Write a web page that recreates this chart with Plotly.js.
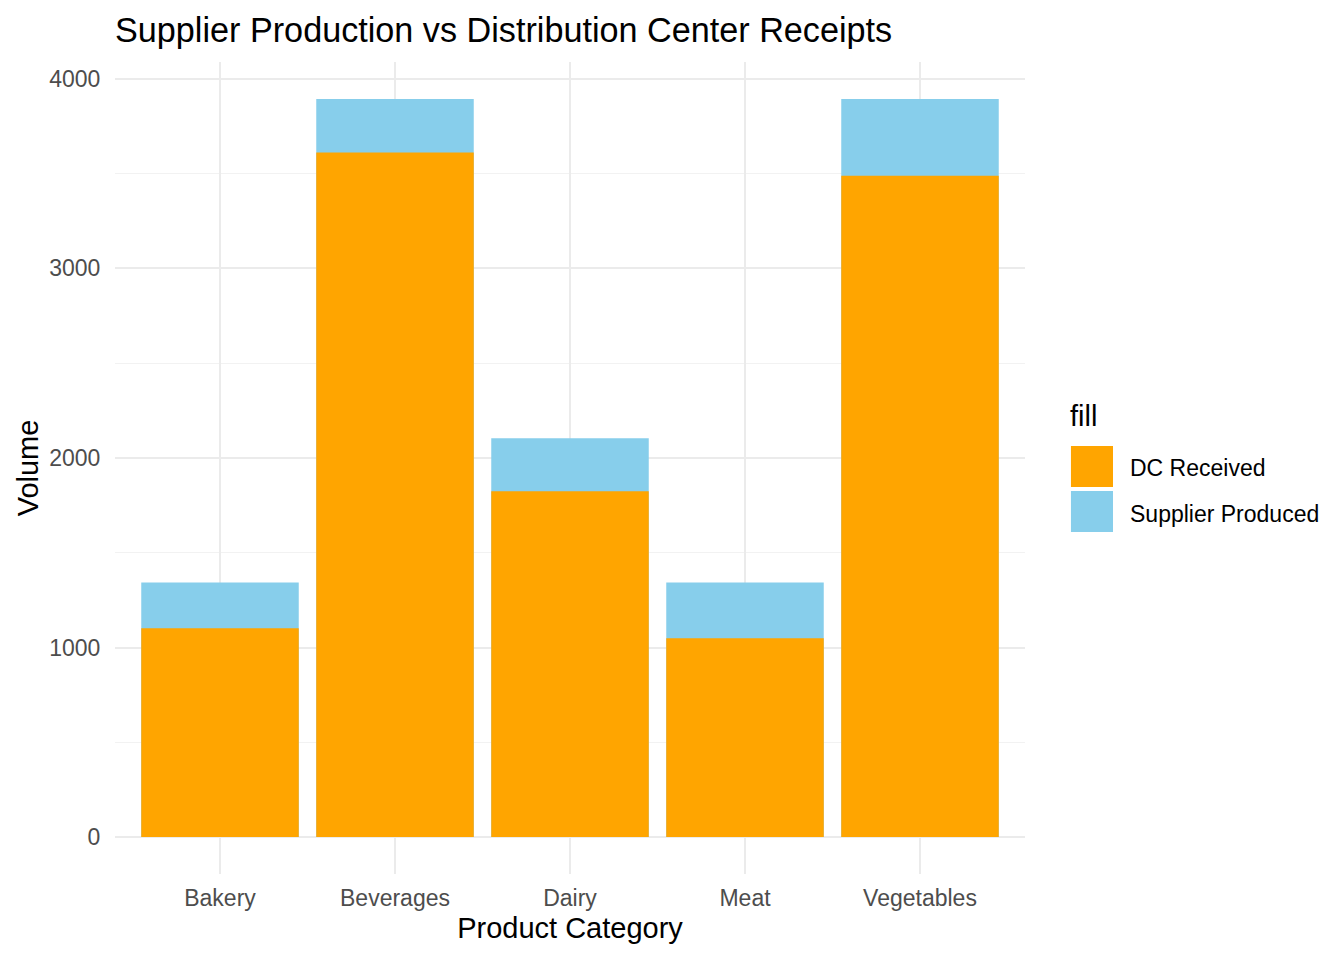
<!DOCTYPE html>
<html>
<head>
<meta charset="utf-8">
<script src="https://cdn.plot.ly/plotly-3.0.1.min.js"></script>
<style>html,body{margin:0;padding:0;background:#fff;}#chart{width:1344px;height:960px;}</style>
</head>
<body>
<div id="chart"></div>
<script>
const categories = ["Bakery", "Beverages", "Dairy", "Meat", "Vegetables"];
const supplierProduced = [1343, 3894, 2104, 1343, 3894];
const dcReceived = [1102, 3611, 1825, 1049, 3489];
const yTicks = [0, 1000, 2000, 3000, 4000];
const seriesNames = ["DC Received", "Supplier Produced"];
const seriesColors = ["#FFA500", "#87CEEB"];

const maxVal = Math.max(...supplierProduced, ...dcReceived);
const pad = maxVal * 0.05;

const font = "Liberation Sans, Arial, sans-serif";

const traces = [
  {type: "bar", x: categories, y: supplierProduced, name: seriesNames[1],
   marker: {color: seriesColors[1], line: {width: 0}}, showlegend: false, hoverinfo: "x+y+name"},
  {type: "bar", x: categories, y: dcReceived, name: seriesNames[0],
   marker: {color: seriesColors[0], line: {width: 0}}, showlegend: false, hoverinfo: "x+y+name"}
];

// custom ggplot-like legend
const keyX0 = 1.0505, keyX1 = 1.0967;
const keyRows = [
  {y0: 0.4766, y1: 0.5271, ly: 0.5},
  {y0: 0.4212, y1: 0.4717, ly: 0.4433}
];
const shapes = keyRows.map((r, i) => ({
  type: "rect", xref: "paper", yref: "paper", x0: keyX0, x1: keyX1, y0: r.y0, y1: r.y1,
  fillcolor: seriesColors[i], line: {width: 0}
}));
const annotations = keyRows.map((r, i) => ({
  xref: "paper", yref: "paper", x: 1.1132, y: r.ly, xanchor: "left", yanchor: "middle",
  text: seriesNames[i], showarrow: false, font: {family: font, size: 23, color: "#000"}
}));
annotations.push({
  xref: "paper", yref: "paper", x: 1.047, y: 0.564, xanchor: "left", yanchor: "middle",
  text: "fill", showarrow: false, font: {family: font, size: 29, color: "#000"}
});

const layout = {
  width: 1344, height: 960,
  margin: {l: 115, r: 319, t: 62, b: 86},
  paper_bgcolor: "#fff", plot_bgcolor: "#fff",
  barmode: "overlay", bargap: 0.1,
  font: {family: font},
  title: {text: "Supplier Production vs Distribution Center Receipts",
          x: 115/1344, xanchor: "left", xref: "container",
          y: 1 - 30/960, yanchor: "middle", yref: "container",
          font: {family: font, size: 34.2, color: "#000"}},
  xaxis: {
    type: "category", range: [-0.6, 4.6], fixedrange: true,
    showgrid: true, gridcolor: "#EBEBEB", gridwidth: 2,
    showline: false, zeroline: false,
    ticks: "outside", ticklen: 3, tickcolor: "rgba(0,0,0,0)",
    tickfont: {family: font, size: 23, color: "#4D4D4D"},
    title: {text: "Product Category", standoff: 8, font: {family: font, size: 29, color: "#000"}},
    automargin: false
  },
  yaxis: {
    range: [-pad, maxVal + pad], fixedrange: true,
    tickvals: yTicks, ticktext: yTicks.map(String),
    showgrid: true, gridcolor: "#EBEBEB", gridwidth: 2,
    minor: {showgrid: true, dtick: 500, tick0: 0, gridcolor: "#F2F2F2", gridwidth: 1},
    showline: false, zeroline: false,
    ticks: "outside", ticklen: 9, tickcolor: "rgba(0,0,0,0)",
    tickfont: {family: font, size: 23, color: "#4D4D4D"},
    title: {text: "Volume", standoff: 2, font: {family: font, size: 29, color: "#000"}},
    automargin: false
  },
  shapes: shapes,
  annotations: annotations,
  showlegend: false
};

Plotly.newPlot("chart", traces, layout, {displayModeBar: false, staticPlot: true});
</script>
</body>
</html>
